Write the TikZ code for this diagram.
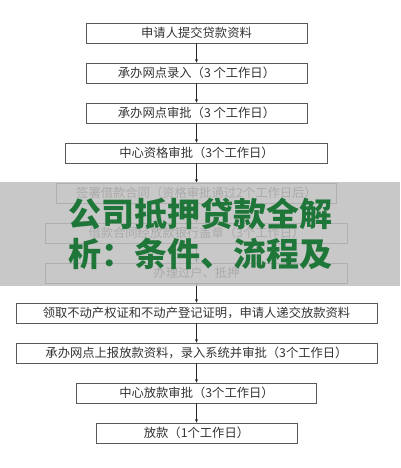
\documentclass[tikz,border=0pt]{standalone}
\usepackage{fontspec}
\setmainfont{Noto Sans CJK SC}
\newfontfamily\cjk{Noto Sans CJK SC}
\usetikzlibrary{arrows.meta}
\definecolor{bandgreen}{RGB}{30,118,56}
\begin{document}
\begin{tikzpicture}[x=1pt,y=-1pt,
  stepbox/.style={draw=black!65,line width=0.8pt,minimum height=20pt,inner sep=0pt,text=black!80,font=\cjk\fontsize{12.3}{14}\selectfont},
  conn/.style={draw=black!85,line width=0.7pt,-{Stealth[length=3.5pt,width=3pt]}},
  bigtxt/.style={text=bandgreen,font=\cjk\bfseries\fontsize{33}{36}\selectfont,inner sep=0pt}]
\useasboundingbox (0,0) rectangle (400,468);
\fill[white] (0,0) rectangle (400,468);
\node[stepbox,minimum width=221pt] (b1) at (196.5,33) {申请人提交贷款资料};
\node[stepbox,minimum width=221pt] (b2) at (196.5,73) {承办网点录入（3 个工作日）};
\node[stepbox,minimum width=221pt] (b3) at (196.5,113) {承办网点审批（3 个工作日）};
\node[stepbox,minimum width=262pt] (b4) at (196.5,153) {中心资格审批（3个工作日）};
\node[stepbox,minimum width=280pt] (b5) at (196.5,193) {签署借款合同（资格审批通过2个工作日后）};
\node[stepbox,minimum width=302pt] (b6) at (196.5,233) {借款合同经放款银行盖章（3个工作日）};
\node[stepbox,minimum width=302pt] (b7) at (196.5,273) {办理过户、抵押};
\node[stepbox,minimum width=361pt] (b8) at (196.5,313) {领取不动产权证和不动产登记证明，申请人递交放款资料};
\node[stepbox,minimum width=361pt] (b9) at (196.5,353) {承办网点上报放款资料，录入系统并审批（3个工作日）};
\node[stepbox,minimum width=240pt] (b10) at (196.5,393) {中心放款审批（3个工作日）};
\node[stepbox,minimum width=201pt] (b11) at (196.5,433) {放款（1个工作日）};
\foreach \a/\b in {b1/b2,b2/b3,b3/b4,b4/b5,b5/b6,b6/b7,b7/b8,b8/b9,b9/b10,b10/b11}
  \draw[conn] (\a) -- (\b);
\fill[black!25,opacity=0.85] (0,182) rectangle (400,286);
\node[bigtxt] (t1) at (200,214) {公司抵押贷款全解};
\node[bigtxt] (t2) at (200,254) {析：条件、流程及};
\end{tikzpicture}
\end{document}
